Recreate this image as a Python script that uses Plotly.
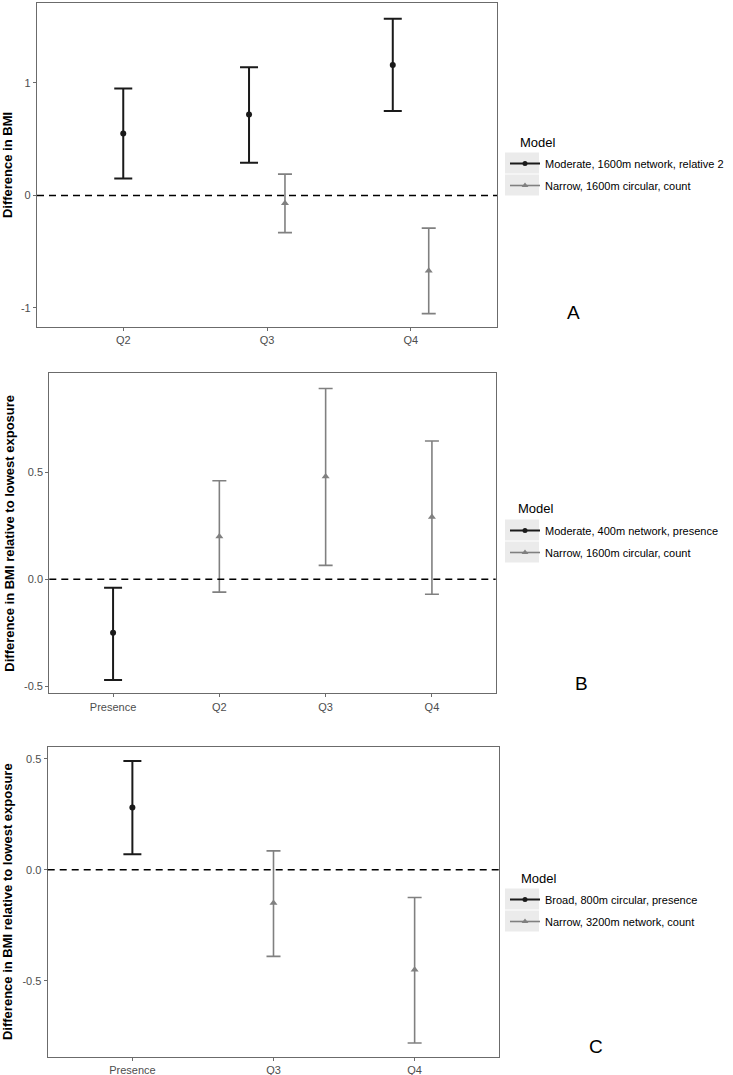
import plotly.graph_objects as go

W, H = 733, 1075
FONT = "Liberation Sans, Arial, sans-serif"
BLACK = "#1a1a1a"
GREY = "#808080"

# ---------------- data ----------------
a_categories = ["Q2", "Q3", "Q4"]
a_s1_name = "Moderate, 1600m network, relative 2"
a_s1_cats = ["Q2", "Q3", "Q4"]
a_s1_est = [0.55, 0.72, 1.16]
a_s1_low = [0.15, 0.29, 0.75]
a_s1_high = [0.95, 1.14, 1.57]
a_s2_name = "Narrow, 1600m circular, count"
a_s2_cats = ["Q3", "Q4"]
a_s2_est = [-0.07, -0.67]
a_s2_low = [-0.33, -1.05]
a_s2_high = [0.19, -0.29]

b_categories = ["Presence", "Q2", "Q3", "Q4"]
b_s1_name = "Moderate, 400m network, presence"
b_s1_cats = ["Presence"]
b_s1_est = [-0.25]
b_s1_low = [-0.47]
b_s1_high = [-0.04]
b_s2_name = "Narrow, 1600m circular, count"
b_s2_cats = ["Q2", "Q3", "Q4"]
b_s2_est = [0.20, 0.48, 0.29]
b_s2_low = [-0.06, 0.065, -0.07]
b_s2_high = [0.46, 0.89, 0.645]

c_categories = ["Presence", "Q3", "Q4"]
c_s1_name = "Broad, 800m circular, presence"
c_s1_cats = ["Presence"]
c_s1_est = [0.28]
c_s1_low = [0.07]
c_s1_high = [0.49]
c_s2_name = "Narrow, 3200m network, count"
c_s2_cats = ["Q3", "Q4"]
c_s2_est = [-0.15, -0.45]
c_s2_low = [-0.39, -0.78]
c_s2_high = [0.085, -0.125]

a_yticks = [-1, 0, 1]
a_yticklabels = ["-1", "0", "1"]
bc_yticks = [-0.5, 0, 0.5]
bc_yticklabels = ["-0.5", "0.0", "0.5"]

y_title_a = "Difference in BMI"
y_title_bc = "Difference in BMI relative to lowest exposure"
legend_title = "Model"
panel_labels = ["A", "B", "C"]

# ---------------- layout geometry (pixels) ----------------
panels = [
    dict(cats=a_categories,
         s1=(a_s1_name, a_s1_cats, a_s1_est, a_s1_low, a_s1_high),
         s2=(a_s2_name, a_s2_cats, a_s2_est, a_s2_low, a_s2_high),
         box=(37, 3, 497, 327), yr=[-1.169, 1.711],
         yt=a_yticks, ytl=a_yticklabels, ytitle=y_title_a,
         title_pos=(520, 142), lab=(573, 312)),
    dict(cats=b_categories,
         s1=(b_s1_name, b_s1_cats, b_s1_est, b_s1_low, b_s1_high),
         s2=(b_s2_name, b_s2_cats, b_s2_est, b_s2_low, b_s2_high),
         box=(49.3, 373.3, 495.7, 693.3), yr=[-0.532, 0.961],
         yt=bc_yticks, ytl=bc_yticklabels, ytitle=y_title_bc,
         title_pos=(518, 509), lab=(581, 683)),
    dict(cats=c_categories,
         s1=(c_s1_name, c_s1_cats, c_s1_est, c_s1_low, c_s1_high),
         s2=(c_s2_name, c_s2_cats, c_s2_est, c_s2_low, c_s2_high),
         box=(47.7, 746.7, 499.3, 1056.7), yr=[-0.842, 0.554],
         yt=bc_yticks, ytl=bc_yticklabels, ytitle=y_title_bc,
         title_pos=(521, 878), lab=(596, 1046)),
]

fig = go.Figure()
DODGE = 0.125
shapes = []
annotations = []
layout = {}
TEXT_X = 545      # legend label start
ITEM_GAP = 22     # legend item spacing

for i, p in enumerate(panels):
    n = i + 1
    xa = "x" if n == 1 else f"x{n}"
    ya = "y" if n == 1 else f"y{n}"
    xkey = "xaxis" if n == 1 else f"xaxis{n}"
    ykey = "yaxis" if n == 1 else f"yaxis{n}"
    lkey = "legend" if n == 1 else f"legend{n}"
    x0, y0, x1, y1 = p["box"]
    cats = p["cats"]
    both = set(p["s1"][1]) & set(p["s2"][1])

    for si, (ser, col, sym, msize, lw, capw) in enumerate([
        (p["s1"], BLACK, "circle", 6, 2, 9),
        (p["s2"], GREY, "triangle-up", 7, 1.6, 7),
    ]):
        name, scats, est, low, high = ser
        sign = -1 if si == 0 else 1
        xs = [cats.index(c) + (sign * DODGE if c in both else 0) for c in scats]
        plus = [h - e for h, e in zip(high, est)]
        minus = [e - l for e, l in zip(est, low)]
        fig.add_trace(go.Scatter(
            x=xs, y=est, mode="markers", xaxis=xa, yaxis=ya,
            marker=dict(color=col, symbol=sym, size=msize),
            error_y=dict(type="data", symmetric=False, array=plus, arrayminus=minus,
                         color=col, thickness=lw, width=capw),
            showlegend=False, hoverinfo="skip"))
        # legend entry
        fig.add_trace(go.Scatter(
            x=[None], y=[None], mode="lines+markers", xaxis=xa, yaxis=ya,
            name=name, legend=lkey, legendgroup=f"{lkey}_{si}",
            marker=dict(color=col, symbol=sym, size=msize - 1),
            line=dict(color=col, width=lw)))

    tx, ty = p["title_pos"]
    first_item_y = ty + 21
    layout[xkey] = dict(
        domain=[x0 / W, x1 / W], anchor=ya, range=[-0.6, len(cats) - 1 + 0.6],
        tickmode="array", tickvals=list(range(len(cats))), ticktext=cats,
        showline=True, mirror=True, linecolor="#6b6b6b", linewidth=1.2,
        ticks="outside", ticklen=3, tickcolor="#6b6b6b", tickwidth=1,
        showgrid=False, zeroline=False, automargin=False,
        tickfont=dict(family=FONT, size=11, color="#4d4d4d"))
    layout[ykey] = dict(
        domain=[1 - y1 / H, 1 - y0 / H], anchor=xa, range=p["yr"],
        tickmode="array", tickvals=p["yt"], ticktext=p["ytl"],
        showline=True, mirror=True, linecolor="#6b6b6b", linewidth=1.2,
        ticks="outside", ticklen=3, tickcolor="#6b6b6b", tickwidth=1,
        showgrid=False, zeroline=False, automargin=False,
        tickfont=dict(family=FONT, size=11, color="#4d4d4d"),
        title=dict(text=f"<b>{p['ytitle']}</b>", standoff=6,
                   font=dict(family=FONT, size=13, color="#000000")))
    layout[lkey] = dict(
        x=(TEXT_X - 40) / W, y=1 - (first_item_y - 14) / H,
        xanchor="left", yanchor="top",
        bgcolor="rgba(0,0,0,0)", tracegroupgap=3, traceorder="grouped",
        font=dict(family=FONT, size=11, color="#000000"))
    annotations.append(dict(text=legend_title, x=(tx - 2) / W, y=1 - ty / H,
                            xref="paper", yref="paper", xanchor="left", yanchor="middle",
                            showarrow=False,
                            font=dict(family=FONT, size=13, color="#000000")))
    for k in range(2):
        cy = first_item_y + k * ITEM_GAP
        shapes.append(dict(type="rect", xref="paper", yref="paper", layer="below",
                           x0=(TEXT_X - 40) / W, x1=(TEXT_X - 6) / W,
                           y0=1 - (cy - 10.5) / H, y1=1 - (cy + 10.5) / H,
                           fillcolor="#ebebeb", line=dict(width=0)))

    shapes.append(dict(type="line", xref=f"{xa} domain", yref=ya,
                       x0=0, x1=1, y0=0, y1=0,
                       line=dict(color="#000000", width=1.5, dash="7px,5px")))
    lbx, lby = p["lab"]
    annotations.append(dict(text=panel_labels[i], x=lbx / W, y=1 - lby / H,
                            xref="paper", yref="paper", showarrow=False,
                            xanchor="center", yanchor="middle",
                            font=dict(family=FONT, size=19, color="#000000")))

fig.update_layout(
    width=W, height=H, margin=dict(l=0, r=0, t=0, b=0, autoexpand=False),
    paper_bgcolor="white", plot_bgcolor="white",
    shapes=shapes, annotations=annotations, **layout)

fig.write_html("out.html", config={"displayModeBar": False},
               post_script="document.body.style.margin='0px';document.body.style.padding='0px';document.documentElement.style.overflow='hidden';")
